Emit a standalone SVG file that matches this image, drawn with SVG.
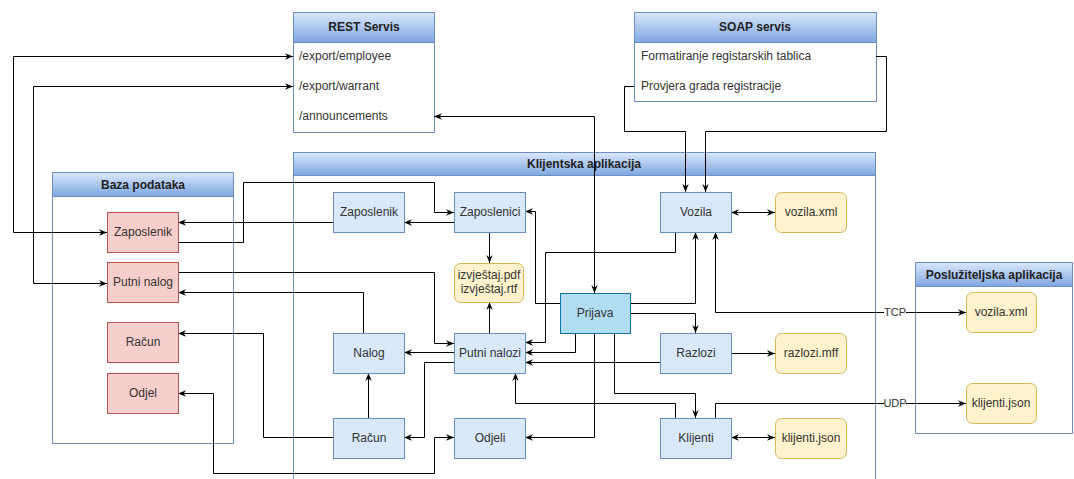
<svg xmlns="http://www.w3.org/2000/svg" width="1074" height="479" viewBox="0 0 1074 479">
<defs>
<linearGradient id="hdr" x1="0" y1="0" x2="0" y2="1">
<stop offset="0" stop-color="#dae8fc"/>
<stop offset="1" stop-color="#7ea6e0"/>
</linearGradient>
<marker id="arr" viewBox="0 0 10 10" refX="10" refY="5" markerWidth="8" markerHeight="8" markerUnits="userSpaceOnUse" orient="auto-start-reverse">
<path d="M0,1 L10,5 L0,9 L3,5 Z" fill="#000"/>
</marker>
<style>
text{font-family:"Liberation Sans",Arial,sans-serif;font-size:12px;fill:#333;}
.h{font-weight:bold;text-anchor:middle;fill:#222;}
.c{text-anchor:middle;}
.row{text-anchor:start;}
.lbl{font-size:11px;text-anchor:middle;}
.cont{fill:#fff;stroke:#6c8ebf;stroke-width:1;}
.head{fill:url(#hdr);stroke:#6c8ebf;stroke-width:1;}
.blue{fill:#dae8fc;stroke:#6c8ebf;stroke-width:1;}
.red{fill:#f8cecc;stroke:#b85450;stroke-width:1;}
.yel{fill:#fff2cc;stroke:#d6b656;stroke-width:1;}
.cyan{fill:#b1ddf0;stroke:#10739e;stroke-width:1;}
.e{fill:none;stroke:#000;stroke-width:1;marker-end:url(#arr);}
.b{fill:none;stroke:#000;stroke-width:1;marker-start:url(#arr);marker-end:url(#arr);}
.n{fill:none;stroke:#000;stroke-width:1;}
</style>
</defs>
<rect width="1074" height="479" fill="#fff"/>

<g id="rest-servis">
<rect class="cont" x="293.5" y="12.5" width="141" height="120"/>
<rect class="head" x="293.5" y="12.5" width="141" height="30"/>
<text class="h" x="364" y="31">REST Servis</text>
<text class="row" x="299" y="60">/export/employee</text>
<text class="row" x="299" y="90">/export/warrant</text>
<text class="row" x="299" y="120">/announcements</text>
</g>

<g id="soap-servis">
<rect class="cont" x="634.5" y="12.5" width="242" height="89"/>
<rect class="head" x="634.5" y="12.5" width="242" height="30"/>
<text class="h" x="755" y="31">SOAP servis</text>
<text class="row" x="641" y="60">Formatiranje registarskih tablica</text>
<text class="row" x="641" y="90">Provjera grada registracije</text>
</g>

<g id="baza-podataka">
<rect class="cont" x="52.5" y="172.5" width="181" height="271"/>
<rect class="head" x="52.5" y="172.5" width="181" height="24"/>
<text class="h" x="143" y="189">Baza podataka</text>
</g>

<g id="klijentska-aplikacija">
<rect class="cont" x="293.5" y="152.5" width="582" height="340"/>
<rect class="head" x="293.5" y="152.5" width="582" height="23"/>
<text class="h" x="584" y="168">Klijentska aplikacija</text>
</g>

<g id="posluziteljska-aplikacija">
<rect class="cont" x="915.5" y="262.5" width="157" height="171"/>
<rect class="head" x="915.5" y="262.5" width="157" height="24"/>
<text class="h" x="994" y="279">Poslužiteljska aplikacija</text>
</g>

<g id="connectors">
<path class="b" d="M293,56.5 H13.5 V232.5 H107"/>
<path class="b" d="M293,86.5 H33.5 V283.5 H107"/>
<path class="b" d="M434,116.5 H594.5 V293"/>
<path class="e" d="M634,86.5 H624.5 V131.5 H685.5 V192"/>
<path class="e" d="M876,56.5 H886.5 V131.5 H705.5 V192"/>
<path class="e" d="M178,242.5 H243.5 V182.5 H434.5 V212.5 H454"/>
<path class="e" d="M454,222.5 H404"/>
<path class="e" d="M333,222.5 H178"/>
<path class="e" d="M489.5,232 V263"/>
<path class="e" d="M489.5,333 V302"/>
<path class="e" d="M178,272.5 H434.5 V343.5 H454"/>
<path class="e" d="M363.5,333 V292.5 H178"/>
<path class="e" d="M454,352.5 H404"/>
<path class="e" d="M368.5,418 V373"/>
<path class="e" d="M454,362.5 H424.5 V437.5 H404"/>
<path class="e" d="M333,437.5 H263.5 V333.5 H178"/>
<path class="b" d="M178,393.5 H213.5 V473.5 H434.5 V437.5 H454"/>
<path class="e" d="M560,303.5 H535.5 V211.5 H525"/>
<path class="e" d="M575.5,333 V352.5 H525"/>
<path class="e" d="M675.5,232 V252.5 H545.5 V342.5 H525"/>
<path class="e" d="M660,362.5 H525"/>
<path class="e" d="M675.5,418 V403.5 H515.5 V373"/>
<path class="e" d="M594.5,333 V437.5 H525"/>
<path class="e" d="M630,303.5 H695.5 V232"/>
<path class="e" d="M630,313.5 H695.5 V333"/>
<path class="e" d="M614.5,333 V393.5 H695.5 V418"/>
<path class="b" d="M731,212.5 H775"/>
<path class="e" d="M725,353.5 H775"/>
<path class="b" d="M731,437.5 H775"/>
<path class="b" d="M715.5,232 V312.5 H966"/>
<path class="e" d="M715.5,418 V403.5 H966"/>
<rect x="884" y="306" width="22" height="13" fill="#fff"/>
<text class="lbl" x="895" y="316">TCP</text>
<rect x="884" y="397" width="22" height="13" fill="#fff"/>
<text class="lbl" x="895" y="407">UDP</text>
</g>

<g id="db-zaposlenik"><rect class="red" x="107.5" y="212.5" width="71" height="40"/><text class="c" x="143" y="236">Zaposlenik</text></g>
<g id="db-putni-nalog"><rect class="red" x="107.5" y="262.5" width="71" height="40"/><text class="c" x="143" y="286">Putni nalog</text></g>
<g id="db-racun"><rect class="red" x="107.5" y="322.5" width="71" height="40"/><text class="c" x="143" y="346">Račun</text></g>
<g id="db-odjel"><rect class="red" x="107.5" y="373.5" width="71" height="40"/><text class="c" x="143" y="397">Odjel</text></g>

<g id="zaposlenik"><rect class="blue" x="333.5" y="192.5" width="71" height="40"/><text class="c" x="369" y="216">Zaposlenik</text></g>
<g id="zaposlenici"><rect class="blue" x="454.5" y="192.5" width="71" height="40"/><text class="c" x="490" y="216">Zaposlenici</text></g>
<g id="izvjestaj"><rect class="yel" x="454.5" y="263.5" width="69" height="39" rx="6"/><text class="c" x="489" y="279">izvještaj.pdf</text><text class="c" x="489" y="293">izvještaj.rtf</text></g>
<g id="nalog"><rect class="blue" x="333.5" y="333.5" width="71" height="40"/><text class="c" x="369" y="357">Nalog</text></g>
<g id="putni-nalozi"><rect class="blue" x="454.5" y="333.5" width="71" height="40"/><text class="c" x="490" y="357">Putni nalozi</text></g>
<g id="racun"><rect class="blue" x="333.5" y="418.5" width="71" height="40"/><text class="c" x="369" y="442">Račun</text></g>
<g id="odjeli"><rect class="blue" x="454.5" y="418.5" width="71" height="40"/><text class="c" x="490" y="442">Odjeli</text></g>
<g id="prijava"><rect class="cyan" x="560.5" y="293.5" width="70" height="40"/><text class="c" x="595" y="317">Prijava</text></g>
<g id="vozila"><rect class="blue" x="660.5" y="192.5" width="71" height="40"/><text class="c" x="696" y="216">Vozila</text></g>
<g id="vozila-xml"><rect class="yel" x="775.5" y="192.5" width="71" height="40" rx="6"/><text class="c" x="811" y="216">vozila.xml</text></g>
<g id="razlozi"><rect class="blue" x="660.5" y="333.5" width="71" height="40"/><text class="c" x="696" y="357">Razlozi</text></g>
<g id="razlozi-mff"><rect class="yel" x="775.5" y="333.5" width="71" height="40" rx="6"/><text class="c" x="811" y="357">razlozi.mff</text></g>
<g id="klijenti"><rect class="blue" x="660.5" y="418.5" width="71" height="40"/><text class="c" x="696" y="442">Klijenti</text></g>
<g id="klijenti-json"><rect class="yel" x="775.5" y="418.5" width="71" height="40" rx="6"/><text class="c" x="811" y="442">klijenti.json</text></g>
<g id="srv-vozila-xml"><rect class="yel" x="966.5" y="292.5" width="70" height="40" rx="6"/><text class="c" x="1001" y="316">vozila.xml</text></g>
<g id="srv-klijenti-json"><rect class="yel" x="966.5" y="383.5" width="70" height="40" rx="6"/><text class="c" x="1001" y="407">klijenti.json</text></g>
</svg>
